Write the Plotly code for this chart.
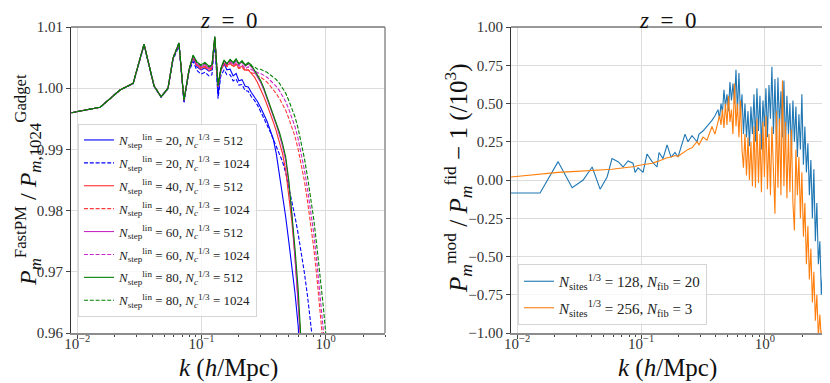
import plotly.graph_objects as go

# ---------------- Left panel data ----------------
k_left = [0.0090, 0.0153, 0.0221, 0.0282, 0.0345, 0.0415, 0.0473, 0.0538, 0.0590, 0.0659,
          0.0723, 0.0794, 0.0855, 0.0920, 0.0990, 0.1067, 0.1148, 0.1214,
          0.128, 0.136, 0.143, 0.152, 0.160, 0.170, 0.180, 0.190, 0.200, 0.212,
          0.225, 0.238, 0.252, 0.267, 0.283, 0.300, 0.318, 0.337, 0.357, 0.378,
          0.400, 0.424, 0.449, 0.476, 0.504, 0.534, 0.566, 0.600, 0.636, 0.674,
          0.714, 0.757, 0.802, 0.850, 0.900, 0.954, 1.01, 1.07]

r_20_512 = [0.9960, 0.9969, 0.9997, 1.0008, 1.0071, 1.0004, 0.9986, 1.0000, 1.0048, 1.0072,
            0.9978, 1.0029, 1.0049, 1.0035, 1.0030, 1.0033, 1.0028, 1.0030,
            1.0080, 0.9988, 1.0028, 1.0040, 1.0030, 1.0031, 1.0020, 1.0024, 1.0012, 1.0014,
            1.0003, 1.0002, 0.9993, 0.9986, 0.9978, 0.9968, 0.9957, 0.9946, 0.9932, 0.9917,
            0.9893, 0.9860, 0.9828, 0.9790, 0.9750, 0.9710, 0.9665, 0.9612, 0.9550, 0.9480,
            0.940, 0.928, 0.914, 0.899, 0.879, 0.859, 0.839, 0.819]
r_20_1024 = [0.9960, 0.9969, 0.9997, 1.0007, 1.0070, 1.0003, 0.9985, 0.9999, 1.0046, 1.0069,
             0.9976, 1.0027, 1.0044, 1.0029, 1.0023, 1.0026, 1.0020, 1.0022,
             1.0075, 0.9983, 1.0020, 1.0030, 1.0022, 1.0022, 1.0012, 1.0015, 1.0005, 1.0006,
             0.9996, 0.9995, 0.9986, 0.9980, 0.9972, 0.9962, 0.9952, 0.9940, 0.9929, 0.9917,
             0.9905, 0.9893, 0.9880, 0.9862, 0.9840, 0.9815, 0.9790, 0.9762, 0.9732, 0.9698,
             0.9660, 0.9620, 0.9570, 0.9510, 0.9440, 0.9360, 0.927, 0.917]
r_40_512 = [0.9960, 0.9969, 0.9997, 1.0008, 1.0072, 1.0004, 0.9986, 1.0000, 1.0049, 1.0073,
            0.9980, 1.0030, 1.0051, 1.0038, 1.0033, 1.0036, 1.0031, 1.0033,
            1.0083, 1.0003, 1.0030, 1.0041, 1.0036, 1.0042, 1.0036, 1.0040, 1.0033, 1.0036,
            1.0030, 1.0030, 1.0024, 1.0018, 1.0009, 0.9998, 0.9986, 0.9973, 0.9960, 0.9945,
            0.9930, 0.9912, 0.9893, 0.9866, 0.9828, 0.9782, 0.9725, 0.9662, 0.9595, 0.9520,
            0.943, 0.929, 0.914, 0.899, 0.879, 0.859, 0.839, 0.819]
r_40_1024 = [0.9960, 0.9969, 0.9997, 1.0008, 1.0072, 1.0004, 0.9986, 1.0000, 1.0049, 1.0073,
             0.9980, 1.0030, 1.0050, 1.0036, 1.0031, 1.0034, 1.0029, 1.0031,
             1.0082, 1.0002, 1.0028, 1.0040, 1.0035, 1.0040, 1.0035, 1.0038, 1.0032, 1.0034,
             1.0028, 1.0030, 1.0025, 1.0024, 1.0020, 1.0018, 1.0014, 1.0010, 1.0004, 0.9998,
             0.9991, 0.9983, 0.9974, 0.9964, 0.9951, 0.9937, 0.9921, 0.9900, 0.9876, 0.9848,
             0.9815, 0.9778, 0.9738, 0.9690, 0.9643, 0.9595, 0.9540, 0.9470]
r_60_512 = [0.9960, 0.9969, 0.9997, 1.0008, 1.0072, 1.0004, 0.9986, 1.0000, 1.0049, 1.0074,
            0.9981, 1.0030, 1.0052, 1.0040, 1.0035, 1.0039, 1.0033, 1.0035,
            1.0084, 1.0004, 1.0031, 1.0045, 1.0039, 1.0046, 1.0040, 1.0046, 1.0038, 1.0043,
            1.0036, 1.0040, 1.0035, 1.0027, 1.0019, 1.0009, 0.9997, 0.9983, 0.9969, 0.9955,
            0.9940, 0.9923, 0.9905, 0.9882, 0.9844, 0.9794, 0.9732, 0.9666, 0.9598, 0.9522,
            0.943, 0.929, 0.914, 0.899, 0.879, 0.859, 0.839, 0.819]
r_60_1024 = [0.9960, 0.9969, 0.9997, 1.0008, 1.0072, 1.0004, 0.9986, 1.0000, 1.0049, 1.0074,
             0.9981, 1.0030, 1.0052, 1.0040, 1.0035, 1.0039, 1.0033, 1.0035,
             1.0083, 1.0003, 1.0030, 1.0043, 1.0038, 1.0043, 1.0038, 1.0042, 1.0036, 1.0038,
             1.0032, 1.0035, 1.0030, 1.0029, 1.0025, 1.0024, 1.0021, 1.0018, 1.0013, 1.0008,
             1.0003, 0.9996, 0.9987, 0.9978, 0.9966, 0.9952, 0.9937, 0.9917, 0.9894, 0.9866,
             0.9835, 0.9800, 0.9762, 0.9715, 0.9669, 0.9620, 0.9565, 0.9500]
r_80_512 = [0.9960, 0.9969, 0.9997, 1.0008, 1.0072, 1.0004, 0.9986, 1.0000, 1.0049, 1.0074,
            0.9981, 1.0030, 1.0054, 1.0043, 1.0038, 1.0042, 1.0036, 1.0038,
            1.0085, 1.0005, 1.0032, 1.0046, 1.0040, 1.0047, 1.0042, 1.0048, 1.0040, 1.0045,
            1.0038, 1.0042, 1.0038, 1.0030, 1.0022, 1.0012, 1.0000, 0.9986, 0.9972, 0.9959,
            0.9944, 0.9928, 0.9910, 0.9888, 0.9850, 0.9800, 0.9738, 0.9672, 0.9605, 0.9530,
            0.944, 0.930, 0.915, 0.900, 0.880, 0.860, 0.840, 0.820]
r_80_1024 = [0.9960, 0.9969, 0.9997, 1.0008, 1.0072, 1.0004, 0.9986, 1.0000, 1.0049, 1.0074,
             0.9981, 1.0030, 1.0053, 1.0042, 1.0037, 1.0041, 1.0035, 1.0037,
             1.0084, 1.0004, 1.0031, 1.0045, 1.0040, 1.0046, 1.0041, 1.0046, 1.0040, 1.0043,
             1.0037, 1.0040, 1.0036, 1.0035, 1.0031, 1.0031, 1.0028, 1.0026, 1.0022, 1.0018,
             1.0014, 1.0008, 1.0000, 0.9992, 0.9980, 0.9967, 0.9953, 0.9934, 0.9912, 0.9885,
             0.9855, 0.9822, 0.9785, 0.9740, 0.9695, 0.9645, 0.9590, 0.9520]

left_series = [
    ("20", "512", r_20_512, "#0000ff", "solid"),
    ("20", "1024", r_20_1024, "#0000ff", "dash"),
    ("40", "512", r_40_512, "#ff2d2d", "solid"),
    ("40", "1024", r_40_1024, "#ff3a3a", "dash"),
    ("60", "512", r_60_512, "#c828c8", "solid"),
    ("60", "1024", r_60_1024, "#c828c8", "dash"),
    ("80", "512", r_80_512, "#008000", "solid"),
    ("80", "1024", r_80_1024, "#008000", "dash"),
]

# ---------------- Right panel data ----------------
k_right_low = [0.0089, 0.0153, 0.0214, 0.0278, 0.0341, 0.0403, 0.0467, 0.0532, 0.0583, 0.0652,
               0.0716, 0.0785, 0.0861, 0.0895, 0.0946, 0.1038, 0.1117, 0.1227, 0.1346, 0.1396,
               0.1504, 0.1622, 0.1746, 0.1880, 0.1987, 0.2264, 0.2393, 0.2576, 0.2831, 0.2937,
               0.3162, 0.3405, 0.3738, 0.3953]
k_right_high = [0.418, 0.430, 0.442, 0.454, 0.467, 0.480, 0.494, 0.508, 0.522, 0.537,
                0.552, 0.568, 0.584, 0.600, 0.617, 0.635, 0.653, 0.671, 0.690, 0.710,
                0.730, 0.750, 0.771, 0.793, 0.816, 0.839, 0.862, 0.887, 0.912, 0.937,
                0.964, 0.991, 1.019, 1.048, 1.078, 1.108, 1.139, 1.172, 1.205, 1.239,
                1.274, 1.310, 1.347, 1.385, 1.424, 1.464, 1.505, 1.548, 1.591, 1.636,
                1.683, 1.730, 1.779, 1.829, 1.881, 1.934, 1.988, 2.045, 2.102, 2.162,
                2.223, 2.285, 2.350, 2.416, 2.484, 2.554, 2.626, 2.701, 2.777, 2.855,
                2.936, 3.018]

d_128_low = [-0.085, -0.085, 0.12, -0.05, 0.0, 0.085, -0.06, 0.02, 0.14, 0.12,
             0.085, 0.125, 0.11, 0.05, 0.08, 0.05, 0.17, 0.12, 0.085, 0.18,
             0.14, 0.23, 0.15, 0.18, 0.15, 0.30, 0.25, 0.29, 0.25, 0.30,
             0.32, 0.35, 0.39, 0.42]
d_128_high = [0.46, 0.40, 0.50, 0.44, 0.59, 0.48, 0.56, 0.45, 0.64, 0.52,
              0.63, 0.50, 0.72, 0.45, 0.70, 0.42, 0.56, 0.30, 0.50, 0.28,
              0.45, 0.22, 0.48, 0.30, 0.56, 0.25, 0.60, 0.32, 0.55, 0.20,
              0.52, 0.35, 0.60, 0.28, 0.62, 0.40, 0.74, 0.30, 0.66, 0.25,
              0.67, 0.35, 0.58, 0.28, 0.65, 0.22, 0.55, 0.30, 0.50, 0.18,
              0.52, 0.25, 0.48, 0.15, 0.43, 0.20, 0.56, 0.10, 0.35, 0.05,
              0.24, -0.10, 0.13, -0.25, 0.07, -0.40, -0.15, -0.55, -0.40, -0.75,
              -0.60, -1.05]
d_256_low = [0.02, 0.04, 0.05, 0.055, 0.058, 0.06, 0.062, 0.065, 0.07, 0.075,
             0.078, 0.082, 0.085, 0.088, 0.095, 0.10, 0.105, 0.11, 0.12, 0.125,
             0.13, 0.145, 0.15, 0.16, 0.155, 0.19, 0.20, 0.21, 0.25, 0.23,
             0.28, 0.26, 0.35, 0.30]
d_256_high = [0.38, 0.42, 0.36, 0.46, 0.34, 0.50, 0.36, 0.55, 0.38, 0.46,
              0.30, 0.63, 0.35, 0.50, 0.28, 0.52, 0.20, 0.08, 0.30, 0.03,
              0.28, 0.00, 0.25, -0.04, 0.35, -0.05, 0.40, -0.02, 0.30, -0.08,
              0.38, 0.02, 0.42, -0.06, 0.30, -0.10, 0.35, 0.00, -0.22, 0.45,
              -0.05, 0.40, -0.10, 0.65, -0.04, 0.38, -0.12, 0.30, -0.08, 0.33,
              -0.15, -0.33, 0.20, -0.10, 0.15, -0.25, 0.05, -0.37, -0.15, -0.55,
              -0.30, -0.65, -0.45, -0.80, -0.60, -0.92, -0.75, -1.02, -0.88, -1.05,
              -0.95, -1.10]

k_right = k_right_low + k_right_high
d_128 = d_128_low + d_128_high
d_256 = d_256_low + d_256_high

# tick labels
x_tickvals = [0.01, 0.1, 1]
x_ticktext = ["10<sup>\u22122</sup>", "10<sup>\u22121</sup>", "10<sup>0</sup>"]
x_minor = [0.02, 0.03, 0.04, 0.05, 0.06, 0.07, 0.08, 0.09,
           0.2, 0.3, 0.4, 0.5, 0.6, 0.7, 0.8, 0.9, 2, 3]
yl_tickvals = [0.96, 0.97, 0.98, 0.99, 1.00, 1.01]
yr_tickvals = [-1.0, -0.75, -0.5, -0.25, 0.0, 0.25, 0.5, 0.75, 1.0]

FONT = "Liberation Serif"
fig = go.Figure()

for i, (nstep, nc, vals, col, dash) in enumerate(left_series):
    name = (f"<i>N</i><sub>step</sub><sup>lin</sup> = {nstep}, "
            f"<i>N</i><sub><i>c</i></sub><sup>1/3</sup> = {nc}")
    fig.add_trace(go.Scatter(
        x=k_left, y=vals, mode="lines", name=name, xaxis="x", yaxis="y",
        legendgroup=f"L{i}",
        line=dict(color=col, width=1.1, dash=("4px,1.8px" if dash == "dash" else "solid")),
        legend="legend"))

fig.add_trace(go.Scatter(
    x=k_right, y=d_128, mode="lines", xaxis="x2", yaxis="y2", legend="legend2",
    legendgroup="R0",
    name="<i>N</i><sub>sites</sub><sup>1/3</sup> = 128, <i>N</i><sub>fib</sub> = 20",
    line=dict(color="#1f77b4", width=1.1)))
fig.add_trace(go.Scatter(
    x=k_right, y=d_256, mode="lines", xaxis="x2", yaxis="y2", legend="legend2",
    legendgroup="R1",
    name="<i>N</i><sub>sites</sub><sup>1/3</sup> = 256, <i>N</i><sub>fib</sub> = 3",
    line=dict(color="#ff7f0e", width=1.1)))

# page body has an 8px margin: work in screen pixels and shift
OFF = 8
W, H = 822, 375


def px(x):
    return (x - OFF) / W


def py(y):
    return 1 - (y - OFF) / H


L1, R1 = px(71), px(385)
L2, R2 = px(511), px(824)
YB, YT = py(333), py(27)

xcommon = dict(type="log", range=[-2.05, 0.477], tickvals=x_tickvals, ticktext=x_ticktext,
               ticks="outside", ticklen=4, tickcolor="#444", showgrid=True,
               gridcolor="#dcdcdc", gridwidth=1, zeroline=False, showline=True,
               linecolor="#8c8c8c", linewidth=1.5, automargin=False,
               ticklabelstandoff=-8,
               minor=dict(tickvals=x_minor, ticks="outside", ticklen=2, tickcolor="#444",
                          showgrid=False),
               tickfont=dict(family=FONT, size=15, color="#333"))
ycommon = dict(ticks="outside", ticklen=4, tickcolor="#444", showgrid=True,
               gridcolor="#dcdcdc", gridwidth=1, zeroline=False, showline=True,
               linecolor="#333", linewidth=1, tickformat=".2f", automargin=False,
               tickfont=dict(family=FONT, size=15, color="#333"))

fig.update_layout(
    width=W, height=H, margin=dict(l=0, r=0, t=0, b=0, autoexpand=False),
    paper_bgcolor="white", plot_bgcolor="white",
    font=dict(family=FONT, color="#222"),
    xaxis=dict(domain=[L1, R1], anchor="y", **xcommon),
    yaxis=dict(domain=[YB, YT], anchor="x", range=[0.96, 1.01], tickvals=yl_tickvals, **ycommon),
    xaxis2=dict(domain=[L2, R2], anchor="y2", **xcommon),
    yaxis2=dict(domain=[YB, YT], anchor="x2", range=[-1.0, 1.0], tickvals=yr_tickvals, **ycommon),
    legend=dict(x=px(78), y=py(124), xanchor="left", yanchor="top",
                bgcolor="rgba(255,255,255,0.8)", bordercolor="#d5d5d5", borderwidth=1,
                itemwidth=30, font=dict(family=FONT, size=13, color="#222"),
                tracegroupgap=3),
    legend2=dict(x=px(518), y=py(325), xanchor="left", yanchor="bottom",
                 bgcolor="rgba(255,255,255,0.8)", bordercolor="#d5d5d5", borderwidth=1,
                 itemwidth=30, font=dict(family=FONT, size=15, color="#222"),
                 tracegroupgap=4),
    showlegend=True,
)

shapes = []
for xd, yd in (("x domain", "y domain"), ("x2 domain", "y2 domain")):
    shapes.append(dict(type="line", xref=xd, yref=yd, x0=0, x1=1, y0=1, y1=1,
                       line=dict(color="#333", width=1)))
    shapes.append(dict(type="line", xref=xd, yref=yd, x0=1, x1=1, y0=0, y1=1,
                       line=dict(color="#8c8c8c", width=1.5)))
fig.update_layout(shapes=shapes)

ann = []
for cx in ((L1 + R1) / 2, (L2 + R2) / 2):
    ann.append(dict(text="<i>z</i>\u2002=\u20020", x=cx, y=py(21), xref="paper", yref="paper",
                    xanchor="center", yanchor="middle",
                    showarrow=False, font=dict(family=FONT, size=23, color="#111")))
    ann.append(dict(text="<i>k</i> (<i>h</i>/Mpc)", x=cx, y=py(368), xref="paper",
                    yref="paper", xanchor="center", yanchor="middle",
                    showarrow=False, font=dict(family=FONT, size=25, color="#111")))
ann.append(dict(text="<i>P</i><sub><i>m</i></sub><sup>FastPM</sup> / "
                     "<i>P</i><sub><i>m</i>,1024</sub><sup>Gadget</sup>",
                x=px(28), y=py(180), xref="paper", yref="paper", textangle=-90,
                xanchor="center", yanchor="middle",
                showarrow=False, font=dict(family=FONT, size=24, color="#111")))
ann.append(dict(text="<i>P</i><sub><i>m</i></sub><sup>mod</sup> / "
                     "<i>P</i><sub><i>m</i></sub><sup>fid</sup> \u2212 1 (/10<sup>3</sup>)",
                x=px(458), y=py(178), xref="paper", yref="paper", textangle=-90,
                xanchor="center", yanchor="middle",
                showarrow=False, font=dict(family=FONT, size=25, color="#111")))
fig.update_layout(annotations=ann)

fig.write_html("out.html")
